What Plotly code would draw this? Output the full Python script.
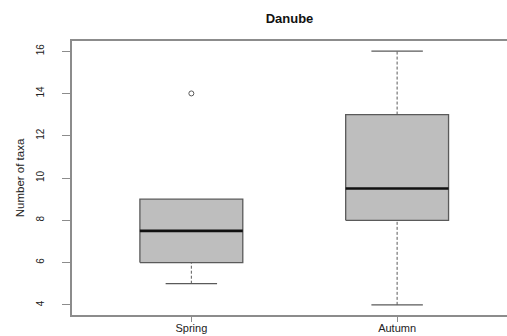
import plotly.graph_objects as go

# Number of taxa per season, summarised as box-plot statistics
categories = ["Spring", "Autumn"]
lower_whisker = [5, 4]
q1 = [6, 8]
median = [7.5, 9.5]
q3 = [9, 13]
upper_whisker = [9, 16]
outlier_cat = ["Spring"]
outlier_val = [14]

y_ticks = [4, 6, 8, 10, 12, 14, 16]

BOX_HALF = 0.25      # half box width (x units)
CAP_HALF = 0.125     # half whisker-cap width
FILL = "#bebebe"
EDGE = "#5a5a5a"
AXIS = "#8c8c8c"

fig = go.Figure()
pos = {c: i + 1 for i, c in enumerate(categories)}

for i, c in enumerate(categories):
    x0 = pos[c]
    # box body
    fig.add_trace(go.Scatter(
        x=[x0 - BOX_HALF, x0 + BOX_HALF, x0 + BOX_HALF, x0 - BOX_HALF, x0 - BOX_HALF],
        y=[q1[i], q1[i], q3[i], q3[i], q1[i]],
        mode="lines", fill="toself", fillcolor=FILL,
        line=dict(color=EDGE, width=1.3), hoverinfo="skip", showlegend=False))
    # median
    fig.add_trace(go.Scatter(
        x=[x0 - BOX_HALF, x0 + BOX_HALF], y=[median[i], median[i]],
        mode="lines", line=dict(color="#111111", width=2.6),
        hoverinfo="skip", showlegend=False))
    # whiskers (dashed) and caps
    for lo, hi in ((lower_whisker[i], q1[i]), (q3[i], upper_whisker[i])):
        if hi > lo:
            fig.add_trace(go.Scatter(
                x=[x0, x0], y=[lo, hi], mode="lines",
                line=dict(color=EDGE, width=1, dash="3px,2px"),
                hoverinfo="skip", showlegend=False))
    for w in (lower_whisker[i], upper_whisker[i]):
        if w < q1[i] or w > q3[i]:
            fig.add_trace(go.Scatter(
                x=[x0 - CAP_HALF, x0 + CAP_HALF], y=[w, w], mode="lines",
                line=dict(color=EDGE, width=1.3),
                hoverinfo="skip", showlegend=False))

# outliers
fig.add_trace(go.Scatter(
    x=[pos[c] for c in outlier_cat], y=outlier_val, mode="markers",
    marker=dict(symbol="circle-open", size=5, color=EDGE, line=dict(width=1)),
    hoverinfo="skip", showlegend=False))

fig.update_layout(
    width=507, height=336,
    margin=dict(l=72, r=0, t=41, b=21),
    plot_bgcolor="white", paper_bgcolor="white",
    font=dict(family="Liberation Sans, Arial, sans-serif", color="#222222"),
    title=dict(text="<b>Danube</b>", x=0.5, xref="paper", xanchor="center",
               y=1, yref="container", yanchor="top", pad=dict(t=14),
               font=dict(size=13, color="#111111")),
    xaxis=dict(range=[0.42, 2.534], tickvals=[pos[c] for c in categories],
               ticktext=categories, showgrid=False, zeroline=False,
               showline=True, mirror=True, linecolor=AXIS, linewidth=1.6,
               ticks="outside", ticklen=5, tickcolor=AXIS, tickwidth=1.3,
               tickfont=dict(size=11), ticklabelstandoff=-3,
               automargin=False),
    yaxis=dict(range=[3.52, 16.48], tickvals=y_ticks, showgrid=False,
               zeroline=False, showline=True, linecolor=AXIS, linewidth=1.6,
               ticks="outside", ticklen=8, tickcolor=AXIS, tickwidth=1.3,
               tickangle=-90, tickfont=dict(size=10),
               ticklabelstandoff=14,
               title=dict(text="Number of taxa", font=dict(size=11.5),
                          standoff=8),
               automargin=False),
)

fig.write_html("out.html")
